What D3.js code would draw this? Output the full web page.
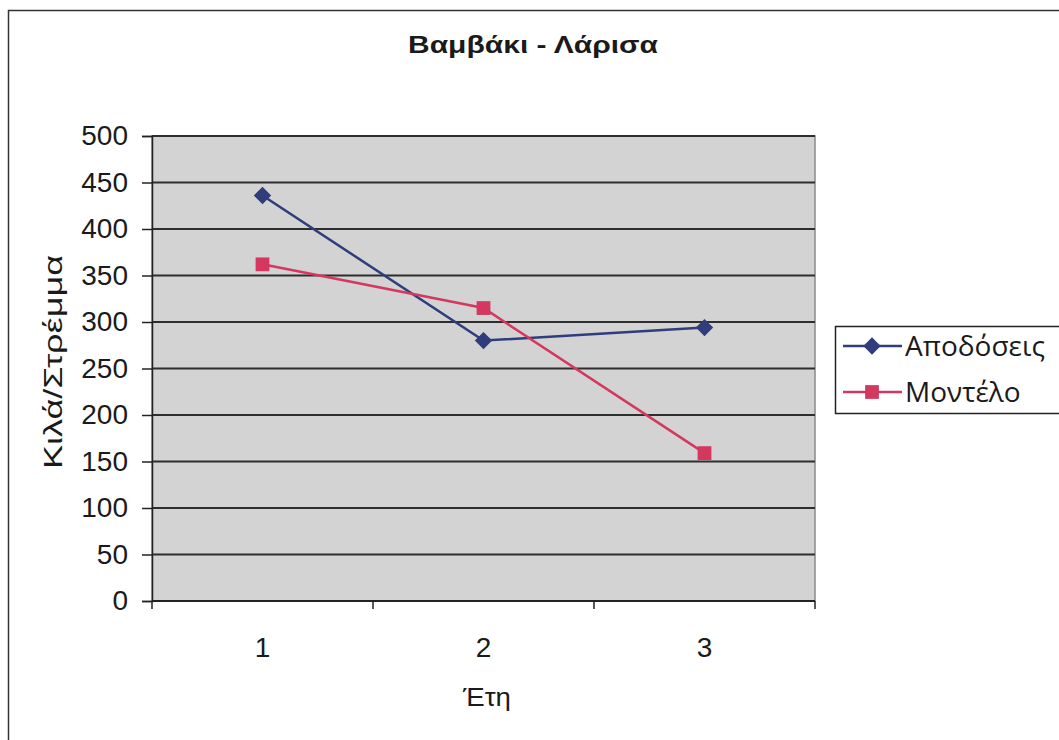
<!DOCTYPE html>
<html>
<head>
<meta charset="utf-8">
<script src="https://cdn.jsdelivr.net/npm/d3@7"></script>
<style>
  body { margin: 0; background: #fff; }
  text { font-family: "Liberation Sans", Arial, sans-serif; }
</style>
</head>
<body>
<svg id="chart" width="1059" height="740"></svg>
<script>
// data
var years = ["1", "2", "3"];
var apodoseis = [436, 280, 294];
var montelo = [362, 315, 159];
var yTicks = [0, 50, 100, 150, 200, 250, 300, 350, 400, 450, 500];

var svg = d3.select("#chart");

// outer chart frame (runs off the right/bottom edges)
svg.append("rect")
  .attr("x", 8.5).attr("y", 10.5)
  .attr("width", 1080).attr("height", 760)
  .attr("fill", "#fff")
  .attr("stroke", "#333")
  .attr("stroke-width", 1.5);

var plotLeft = 152, plotRight = 815, plotTop = 136, plotBottom = 601;

var x = d3.scaleBand().domain(years).range([plotLeft, plotRight]);
var y = d3.scaleLinear().domain([0, 500]).range([plotBottom, plotTop]);

// plot area
svg.append("rect")
  .attr("x", plotLeft).attr("y", plotTop)
  .attr("width", plotRight - plotLeft).attr("height", plotBottom - plotTop)
  .attr("fill", "#d3d3d3")
  .attr("stroke", "#8a8a8a")
  .attr("stroke-width", 1.5);

// gridlines
svg.append("g")
  .selectAll("line")
  .data(yTicks)
  .enter()
  .append("line")
  .attr("x1", plotLeft).attr("x2", plotRight)
  .attr("y1", d => y(d)).attr("y2", d => y(d))
  .attr("stroke", "#2e2e2e")
  .attr("stroke-width", 2);

// y axis
var yAxis = svg.append("g")
  .attr("transform", "translate(" + plotLeft + ",0)")
  .call(d3.axisLeft(y).tickValues(yTicks).tickSize(10).tickPadding(14));
yAxis.select(".domain").attr("stroke", "#222").attr("stroke-width", 1.5);
yAxis.selectAll(".tick line").attr("stroke", "#222").attr("stroke-width", 1.5);
yAxis.selectAll("text")
  .style("font-size", "28px")
  .style("font-family", "'Liberation Sans', Arial, sans-serif")
  .attr("fill", "#1a1a1a");

// x axis: ticks between categories, labels at centres
var xAxis = svg.append("g")
  .attr("transform", "translate(0," + plotBottom + ")");
xAxis.append("line")
  .attr("x1", plotLeft).attr("x2", plotRight)
  .attr("stroke", "#222").attr("stroke-width", 2);
var bounds = years.map(d => x(d)).concat([plotRight]);
xAxis.selectAll(".tk")
  .data(bounds)
  .enter()
  .append("line")
  .attr("x1", d => d).attr("x2", d => d)
  .attr("y1", 0).attr("y2", 8)
  .attr("stroke", "#222").attr("stroke-width", 1.5);
xAxis.selectAll(".lbl")
  .data(years)
  .enter()
  .append("text")
  .attr("x", d => x(d) + x.bandwidth() / 2)
  .attr("y", 56)
  .attr("text-anchor", "middle")
  .style("font-size", "28px")
  .attr("fill", "#1a1a1a")
  .text(d => d);

// axis titles
svg.append("text")
  .attr("x", 487).attr("y", 706)
  .attr("text-anchor", "middle")
  .style("font-size", "25px")
  .attr("textLength", 48)
  .attr("lengthAdjust", "spacingAndGlyphs")
  .attr("fill", "#1a1a1a")
  .text("Έτη");

svg.append("text")
  .attr("transform", "translate(62,362) rotate(-90)")
  .attr("text-anchor", "middle")
  .style("font-size", "25px")
  .attr("textLength", 214)
  .attr("lengthAdjust", "spacingAndGlyphs")
  .attr("fill", "#1a1a1a")
  .text("Κιλά/Στρέμμα");

// title
svg.append("text")
  .attr("x", 533).attr("y", 53)
  .attr("text-anchor", "middle")
  .style("font-size", "24px")
  .style("font-weight", "bold")
  .attr("textLength", 250)
  .attr("lengthAdjust", "spacingAndGlyphs")
  .attr("fill", "#1a1a1a")
  .text("Βαμβάκι - Λάρισα");

// series
var diamond = d3.symbol().type(d3.symbolSquare).size(150);
var square = d3.symbol().type(d3.symbolSquare).size(190);
var series = [
  { name: "Αποδόσεις", values: apodoseis, color: "#2f3d7c", marker: diamond, rot: 45 },
  { name: "Μοντέλο", values: montelo, color: "#d4385f", marker: square, rot: 0 }
];

var line = d3.line()
  .x((d, i) => x(years[i]) + x.bandwidth() / 2)
  .y(d => y(d));

series.forEach(function(s) {
  svg.append("path")
    .datum(s.values)
    .attr("d", line)
    .attr("fill", "none")
    .attr("stroke", s.color)
    .attr("stroke-width", 2.5);

  svg.selectAll(null)
    .data(s.values)
    .enter()
    .append("path")
    .attr("transform", (d, i) => "translate(" + (x(years[i]) + x.bandwidth() / 2) + "," + y(d) + ") rotate(" + s.rot + ")")
    .attr("d", s.marker)
    .attr("fill", s.color);
});

// legend
var lg = svg.append("g").attr("transform", "translate(835,326)");
lg.append("rect")
  .attr("x", 0.5).attr("y", 0.5)
  .attr("width", 240).attr("height", 87)
  .attr("fill", "#fff")
  .attr("stroke", "#222")
  .attr("stroke-width", 1.5);

series.forEach(function(s, i) {
  var cy = 20 + i * 46;
  lg.append("line")
    .attr("x1", 8).attr("x2", 67)
    .attr("y1", cy).attr("y2", cy)
    .attr("stroke", s.color).attr("stroke-width", 2.5);
  lg.append("path")
    .attr("transform", "translate(37," + cy + ") rotate(" + s.rot + ")")
    .attr("d", s.marker)
    .attr("fill", s.color);
  lg.append("text")
    .attr("x", 70).attr("y", cy + 10)
    .style("font-size", "28px")
    .style("font-family", "'Open Sans', sans-serif")
    .attr("fill", "#1a1a1a")
    .text(s.name);
});
</script>
</body>
</html>
